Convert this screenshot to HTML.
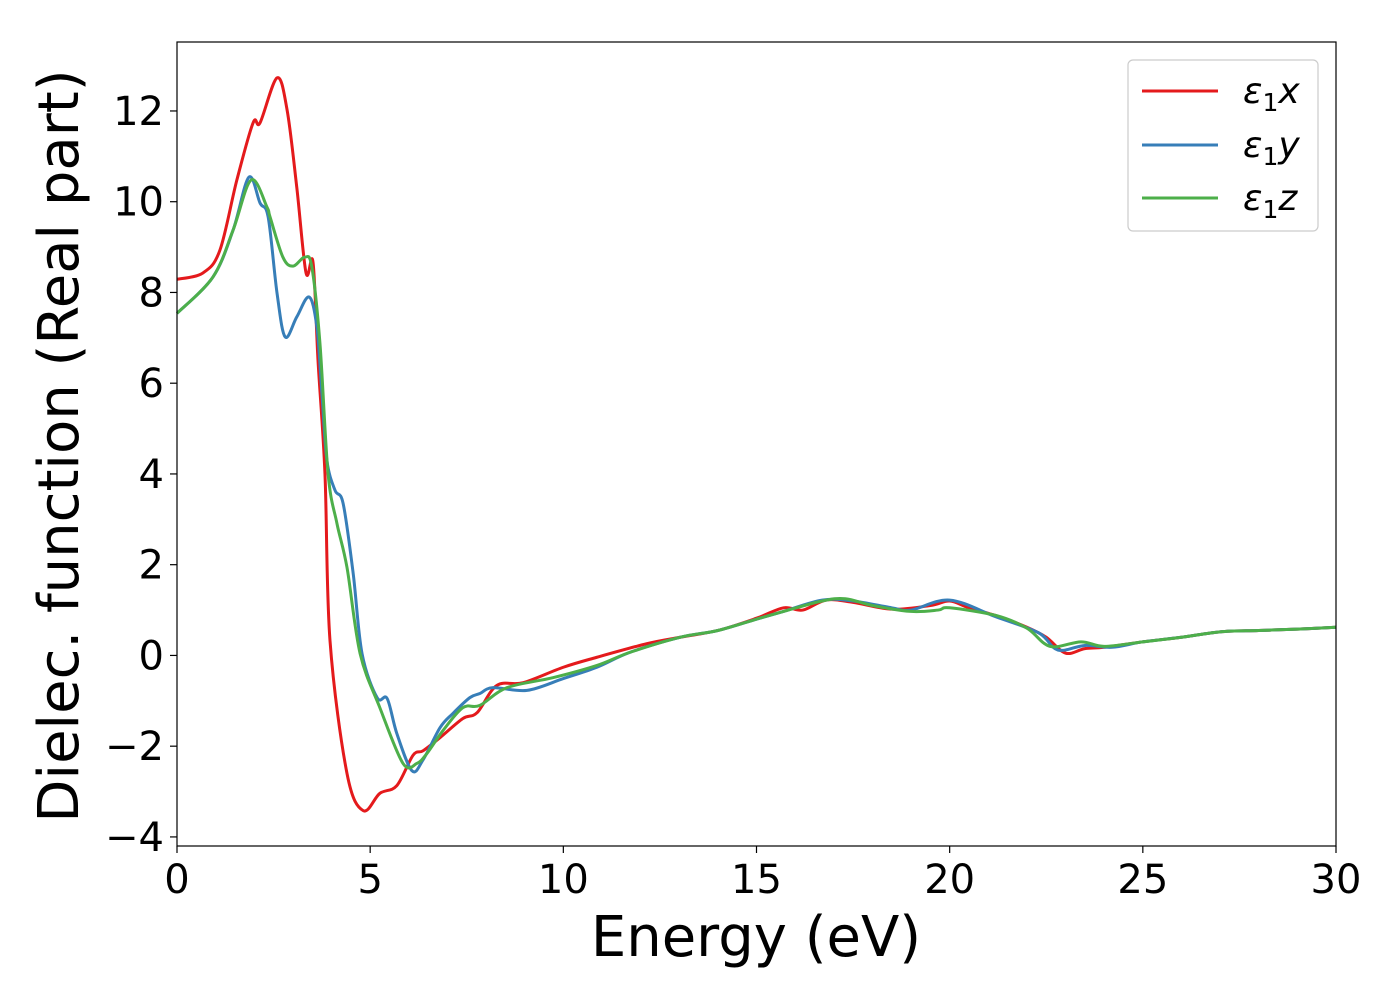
<!DOCTYPE html>
<html><head><meta charset="utf-8"><style>
body{margin:0;background:#fff;}
svg text{font-family:"DejaVu Sans","Liberation Sans",sans-serif;fill:#000;}
</style></head><body>
<svg width="1400" height="1000" id="chart">
<rect width="1400" height="1000" fill="#fff"/>
<g id="series"></g>
<rect x="177" y="42" width="1159" height="804" fill="none" stroke="#000" stroke-width="1.2"/>
<g id="ticks"></g>
<text x="756" y="956" font-size="56" text-anchor="middle">Energy (eV)</text>
<text transform="translate(78,446) rotate(-90)" font-size="56" text-anchor="middle">Dielec. function (Real part)</text>
<g>
<rect x="1128" y="60" width="190" height="171" rx="5" fill="#fff" stroke="#ccc" stroke-width="1.2"/>
<g><line x1="1142" y1="91" x2="1218" y2="91" stroke="#e41a1c" stroke-width="3"/><text x="1243" y="103" font-size="36" font-style="italic">ε<tspan font-size="25" dy="8" font-style="normal">1</tspan><tspan dy="-8">x</tspan></text></g>
<g><line x1="1142" y1="145" x2="1218" y2="145" stroke="#377eb8" stroke-width="3"/><text x="1243" y="157" font-size="36" font-style="italic">ε<tspan font-size="25" dy="8" font-style="normal">1</tspan><tspan dy="-8">y</tspan></text></g>
<g><line x1="1142" y1="198" x2="1218" y2="198" stroke="#4daf4a" stroke-width="3"/><text x="1243" y="210" font-size="36" font-style="italic">ε<tspan font-size="25" dy="8" font-style="normal">1</tspan><tspan dy="-8">z</tspan></text></g>
</g>
</svg>
<script>
const xTicks=[0,5,10,15,20,25,30];
const yTicks=[-4,-2,0,2,4,6,8,10,12];
const tail=[[14,0.55],[15,0.82],[25,0.3],[26,0.4],[27,0.52],[28,0.55],[29,0.58],[30,0.62]];
const redE=[0,0.67,1.11,1.55,1.97,2.15,2.59,2.85,3.1,3.34,3.52,3.65,3.83,3.96,4.4,4.82,5.25,5.69,6.11,6.37,6.81,7.4,7.77,8.28,8.96,10,10.87,12.17,13.02,14,15,15.7,16.2,16.8,17.5,18.5,19.5,20,20.5,21.3,22,22.5,23,23.5,24,25,26,27,28,29,30];
const redV=[8.29,8.43,8.93,10.48,11.74,11.74,12.73,12.02,10.32,8.43,8.67,6.5,4.0,0.33,-2.6,-3.42,-3.04,-2.87,-2.2,-2.1,-1.81,-1.39,-1.26,-0.66,-0.6,-0.26,-0.04,0.26,0.4,0.55,0.82,1.05,1.0,1.22,1.17,1.02,1.1,1.2,1.05,0.85,0.62,0.4,0.05,0.15,0.18,0.3,0.4,0.52,0.55,0.58,0.62];
const blueE=[0,0.93,1.45,1.86,2.15,2.36,2.59,2.8,3.1,3.42,3.62,3.75,3.88,4.09,4.3,4.56,4.79,5.18,5.44,5.69,6.08,6.37,6.81,7.14,7.58,7.84,8.18,9.06,10,10.87,11.73,13.02,14,15,15.7,16.7,17.5,18.5,19,20,21.2,22.3,22.8,23.5,24.2,25,26,27,28,29,30];
const blueV=[7.54,8.34,9.37,10.54,9.97,9.66,7.98,7.02,7.46,7.9,7.24,5.78,4.3,3.64,3.35,1.81,0.04,-0.93,-0.95,-1.72,-2.54,-2.3,-1.59,-1.28,-0.93,-0.84,-0.71,-0.77,-0.51,-0.26,0.07,0.4,0.55,0.8,0.97,1.22,1.2,1.05,1.0,1.22,0.85,0.5,0.12,0.22,0.18,0.3,0.4,0.52,0.55,0.58,0.62];
const greenE=[0,0.93,1.45,1.92,2.33,2.41,2.74,3.0,3.31,3.49,3.7,3.91,4.14,4.4,4.74,5.25,5.85,6.21,6.47,6.89,7.4,7.84,8.54,9.73,10.87,11.73,13.02,14,15,15.7,16.7,17.3,18,19,19.7,20,21.2,22,22.6,23.4,24,25,26,27,28,29,30];
const greenV=[7.54,8.34,9.37,10.48,9.88,9.66,8.78,8.58,8.78,8.56,6.88,4.01,2.91,1.94,0.04,-1.15,-2.38,-2.38,-2.16,-1.65,-1.15,-1.1,-0.71,-0.49,-0.22,0.07,0.4,0.55,0.8,0.97,1.2,1.25,1.1,0.97,1.0,1.05,0.88,0.6,0.2,0.3,0.2,0.3,0.4,0.52,0.55,0.58,0.62];
const X0=177,X1=1336,Ymin=-4.2,Ymax=13.52,PY0=846,PY1=42;
const sx=e=>X0+(e-0)/30*(X1-X0);
const sy=v=>PY0-(v-Ymin)/(Ymax-Ymin)*(PY0-PY1);
const NS="http://www.w3.org/2000/svg";
function pathD(E,V){const p=E.map((e,i)=>[sx(e),sy(V[i])]);let d="M"+p[0][0]+","+p[0][1];
for(let i=0;i<p.length-1;i++){const a=p[Math.max(0,i-1)],b=p[i],c=p[i+1],n=p[Math.min(p.length-1,i+2)];
const t=1/6;d+=" C"+(b[0]+(c[0]-a[0])*t)+","+(b[1]+(c[1]-a[1])*t)+" "+(c[0]-(n[0]-b[0])*t)+","+(c[1]-(n[1]-b[1])*t)+" "+c[0]+","+c[1];}return d;}
const g=document.getElementById('series');
[[redE,redV,'#e41a1c','line-eps1-x'],[blueE,blueV,'#377eb8','line-eps1-y'],[greenE,greenV,'#4daf4a','line-eps1-z']].forEach(s=>{
const p=document.createElementNS(NS,'path');p.setAttribute('d',pathD(s[0],s[1]));p.setAttribute('fill','none');p.setAttribute('stroke',s[2]);p.setAttribute('stroke-width','3');


g.appendChild(p);});
const t=document.getElementById('ticks');
xTicks.forEach(v=>{const x=sx(v);
const l=document.createElementNS(NS,'line');l.setAttribute('x1',x);l.setAttribute('x2',x);l.setAttribute('y1',846);l.setAttribute('y2',853);l.setAttribute('stroke','#000');l.setAttribute('stroke-width','1.2');


t.appendChild(l);
const tx=document.createElementNS(NS,'text');tx.setAttribute('x',x);tx.setAttribute('y',893);tx.setAttribute('font-size','40');tx.setAttribute('text-anchor','middle');tx.textContent=v;


t.appendChild(tx);});
yTicks.forEach(v=>{const y=sy(v);
const l=document.createElementNS(NS,'line');l.setAttribute('x1',170);l.setAttribute('x2',177);l.setAttribute('y1',y);l.setAttribute('y2',y);l.setAttribute('stroke','#000');l.setAttribute('stroke-width','1.2');


t.appendChild(l);
const tx=document.createElementNS(NS,'text');tx.setAttribute('x',164);tx.setAttribute('y',y+14);tx.setAttribute('font-size','40');tx.setAttribute('text-anchor','end');tx.textContent=v<0?'\u2212'+(-v):v;


t.appendChild(tx);});
</script>
</body></html>
